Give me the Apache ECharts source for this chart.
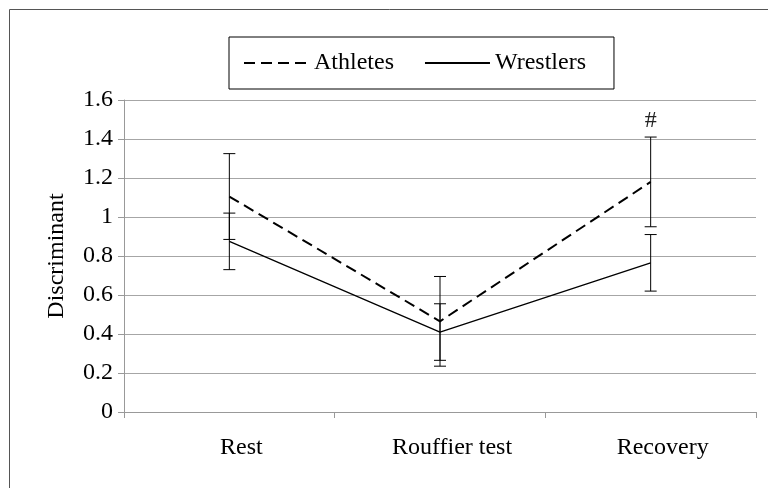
<!DOCTYPE html>
<html>
<head>
<meta charset="utf-8">
<script src="https://cdn.jsdelivr.net/npm/echarts@6/dist/echarts.min.js"></script>
<style>
  html, body { margin: 0; padding: 0; background: #fff; }
  #chart { width: 768px; height: 488px; }
</style>
</head>
<body>
<div id="chart"></div>
<script>
var categories = ['Rest', 'Rouffier test', 'Recovery'];
var athletes = [1.105, 0.465, 1.18];
var athletesErr = [0.22, 0.23, 0.23];
var wrestlers = [0.875, 0.41, 0.765];
var wrestlersErr = [0.145, 0.145, 0.145];
var athletesMark = ['', '', '#'];
var yTicks = { min: 0, max: 1.6, interval: 0.2 };

var serif = '"Liberation Serif", "DejaVu Serif", serif';

// error bar rows: [categoryIndex, low, high, mark]
function errRows(mean, err, marks) {
    return mean.map(function(v, i) {
        return [i, v - err[i], v + err[i], marks ? marks[i] : ''];
    });
}

function renderErr(params, api) {
    var lo = api.coord([api.value(0), api.value(1)]);
    var hi = api.coord([api.value(0), api.value(2)]);
    var cap = 6;
    var style = { stroke: '#000', lineWidth: 1 };
    var children = [
        { type: 'line', shape: { x1: lo[0], y1: lo[1], x2: hi[0], y2: hi[1] }, style: style },
        { type: 'line', shape: { x1: lo[0] - cap, y1: lo[1], x2: lo[0] + cap, y2: lo[1] }, style: style },
        { type: 'line', shape: { x1: hi[0] - cap, y1: hi[1], x2: hi[0] + cap, y2: hi[1] }, style: style }
    ];
    var mark = api.value(3);
    if (mark) {
        children.push({
            type: 'text',
            style: {
                text: mark, x: hi[0], y: hi[1] - 16,
                align: 'center', verticalAlign: 'middle',
                font: '24px ' + serif, fill: '#222'
            }
        });
    }
    return { type: 'group', children: children };
}

var chart = echarts.init(document.getElementById('chart'));
chart.setOption({
    animation: false,
    backgroundColor: '#fff',
    graphic: [{
        type: 'rect',
        shape: { x: 9.5, y: 9.5, width: 800, height: 520 },
        style: { fill: null, stroke: '#555', lineWidth: 1 },
        silent: true
    }],
    grid: { left: 124, right: 12, top: 100, bottom: 76 },
    legend: {
        data: ['Athletes', 'Wrestlers'],
        left: 229,
        top: 37,
        padding: [14, 28, 14, 14],
        borderColor: '#000',
        borderWidth: 1,
        itemWidth: 65,
        itemHeight: 14,
        itemGap: 30,
        itemStyle: { opacity: 0 },
        textStyle: { fontFamily: serif, fontSize: 24, color: '#000' }
    },
    xAxis: {
        type: 'category',
        data: categories,
        boundaryGap: true,
        axisLine: { lineStyle: { color: '#999' } },
        axisTick: { show: true, length: 6, inside: false, lineStyle: { color: '#999' } },
        axisLabel: {
            margin: 24, fontFamily: serif, fontSize: 24, color: '#000',
            padding: [0, 0, 0, 24]
        }
    },
    yAxis: {
        type: 'value',
        min: yTicks.min,
        max: yTicks.max,
        interval: yTicks.interval,
        name: 'Discriminant',
        nameLocation: 'middle',
        nameGap: 55,
        nameTextStyle: { fontFamily: serif, fontSize: 24, color: '#000' },
        axisLine: { show: true, lineStyle: { color: '#999' } },
        axisTick: { show: true, length: 6, lineStyle: { color: '#999' } },
        axisLabel: { margin: 11, fontFamily: serif, fontSize: 24, color: '#000' },
        splitLine: { lineStyle: { color: '#a6a6a6' } }
    },
    series: [
        {
            name: 'Athletes',
            type: 'line',
            data: athletes,
            symbol: 'none',
            z: 3,
            itemStyle: { color: '#000' },
            lineStyle: { color: '#000', width: 2, type: [11, 6] }
        },
        {
            name: 'Wrestlers',
            type: 'line',
            data: wrestlers,
            symbol: 'none',
            z: 3,
            itemStyle: { color: '#000' },
            lineStyle: { color: '#000', width: 1.3, type: 'solid' }
        },
        {
            type: 'custom',
            renderItem: renderErr,
            data: errRows(athletes, athletesErr, athletesMark),
            z: 4
        },
        {
            type: 'custom',
            renderItem: renderErr,
            data: errRows(wrestlers, wrestlersErr),
            z: 4
        }
    ]
});
</script>
</body>
</html>
